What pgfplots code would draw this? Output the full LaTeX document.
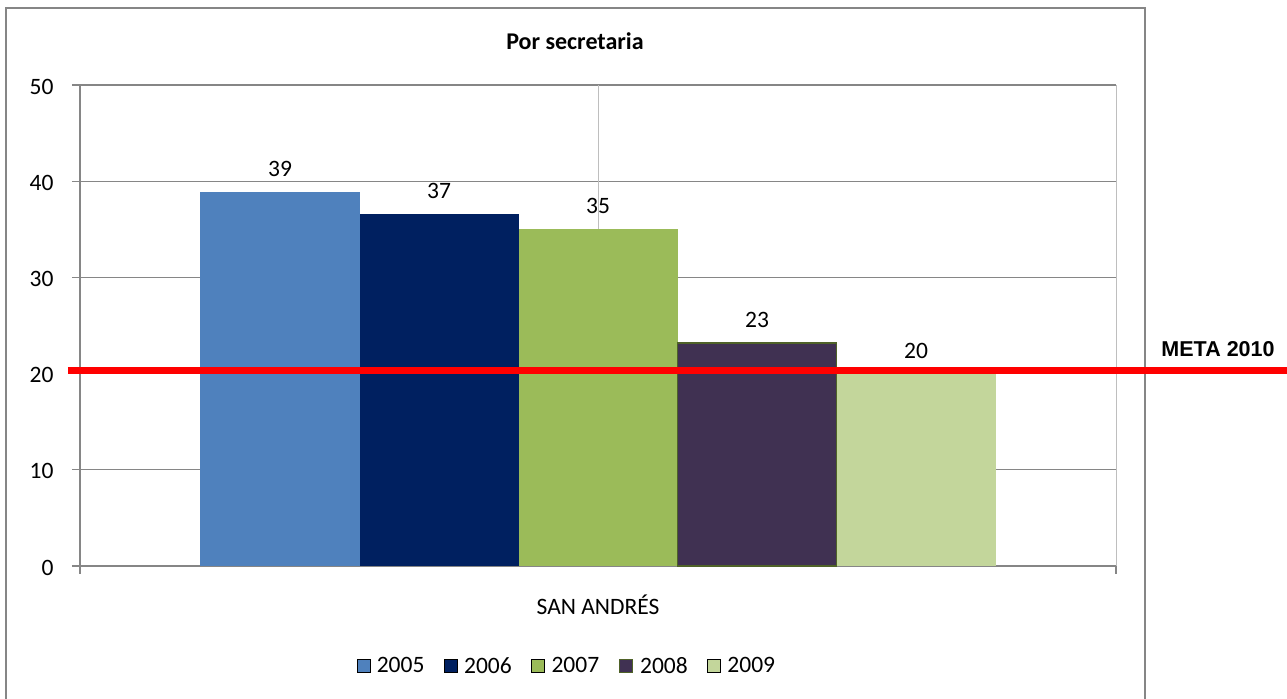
\documentclass[border=0pt]{standalone}
\usepackage{pgfplots}
\pgfplotsset{compat=1.18}
\usepackage{fontspec}
\setmainfont{Carlito}
\newfontfamily\arialfont{Liberation Sans}

\definecolor{c2005}{HTML}{4F81BD}
\definecolor{c2006}{HTML}{002060}
\definecolor{c2007}{HTML}{9BBB59}
\definecolor{c2008}{HTML}{403152}
\definecolor{c2008edge}{HTML}{4F6228}
\definecolor{c2009}{HTML}{C3D69B}
\definecolor{gridgray}{HTML}{868686}
\definecolor{lightgray}{HTML}{BEBEBE}

\newcommand{\chartfont}{\fontsize{23.5bp}{28bp}\selectfont}

\begin{document}
\begin{tikzpicture}[x=1bp,y=1bp]
\useasboundingbox (0,0) rectangle (1287,699);
\draw[gridgray, line width=1.5bp] (6,-20) rectangle (1145,691);

\begin{axis}[
    at={(80bp,133bp)}, anchor=south west,
    scale only axis,
    width=1036bp, height=481bp,
    xmin=0, xmax=1, ymin=0, ymax=50,
    clip=false,
    ybar, bar width=159bp, bar shift=0bp,
    axis lines=left,
    axis line style={-, gridgray, line width=1.2bp},
    ytick={0,10,...,50},
    xtick={0,1},
    xticklabels={},
    extra x ticks={0.5},
    extra x tick labels={SAN ANDRÉS},
    extra x tick style={major tick length=0pt,
        grid=major,
        major grid style={lightgray, line width=1bp},
        xticklabel style={anchor=base, yshift=-49bp}},
    xmajorgrids, ymajorgrids,
    major grid style={gridgray, line width=1.2bp},
    x grid style={lightgray, line width=1bp},
    tick align=outside,
    major tick length=8bp,
    tick style={gridgray, line width=1.2bp},
    every tick label/.append style={font=\chartfont, text=black},
    /pgf/number format/assume math mode=true,
    yticklabel style={xshift=-15bp, yshift=-1.5bp},
    title={\textbf{Por secretaria}},
    title style={font=\fontsize{24bp}{28bp}\selectfont, at={(0.4778,1.079)}, anchor=center},
    legend columns=-1,
    legend style={draw=none, at={(0.469,-0.208)}, anchor=center,
        font=\chartfont, inner sep=0pt,
        nodes={inner sep=0pt},
        /tikz/every even column/.append style={column sep=19.5bp}},
    legend image code/.code={%
        \draw[#1] (0bp,-6.5bp) rectangle (13bp,6.5bp);
        \path (20bp,0bp);},
    nodes near coords,
    point meta=explicit symbolic,
    every node near coord/.append style={font=\chartfont, text=black, anchor=base, yshift=15.5bp},
]
\addplot[fill=c2005, draw=none]
    coordinates {(0.19305,38.9) [39]};
\addlegendentry{2005}
\addplot[fill=c2006, draw=none]
    coordinates {(0.34653,36.6) [37]};
\addlegendentry{2006}
\addplot[fill=c2007, draw=none]
    coordinates {(0.5,35.0) [35]};
\addlegendentry{2007}
\addplot[fill=c2008, draw=c2008edge, line width=1.5bp]
    coordinates {(0.65347,23.2) [23]};
\addlegendentry{2008}
\addplot[fill=c2009, draw=none]
    coordinates {(0.80695,20.0) [20]};
\addlegendentry{2009}

% meta line
\addplot[red, line width=7bp, sharp plot, no marks, forget plot, nodes near coords={}]
    coordinates {(-0.0116,20.3) (1.17,20.3)};
\node[font=\arialfont\bfseries\fontsize{21.5bp}{25bp}\selectfont, anchor=center]
    at (axis cs:1.0985,22.56) {META 2010};
\end{axis}
\end{tikzpicture}
\end{document}
